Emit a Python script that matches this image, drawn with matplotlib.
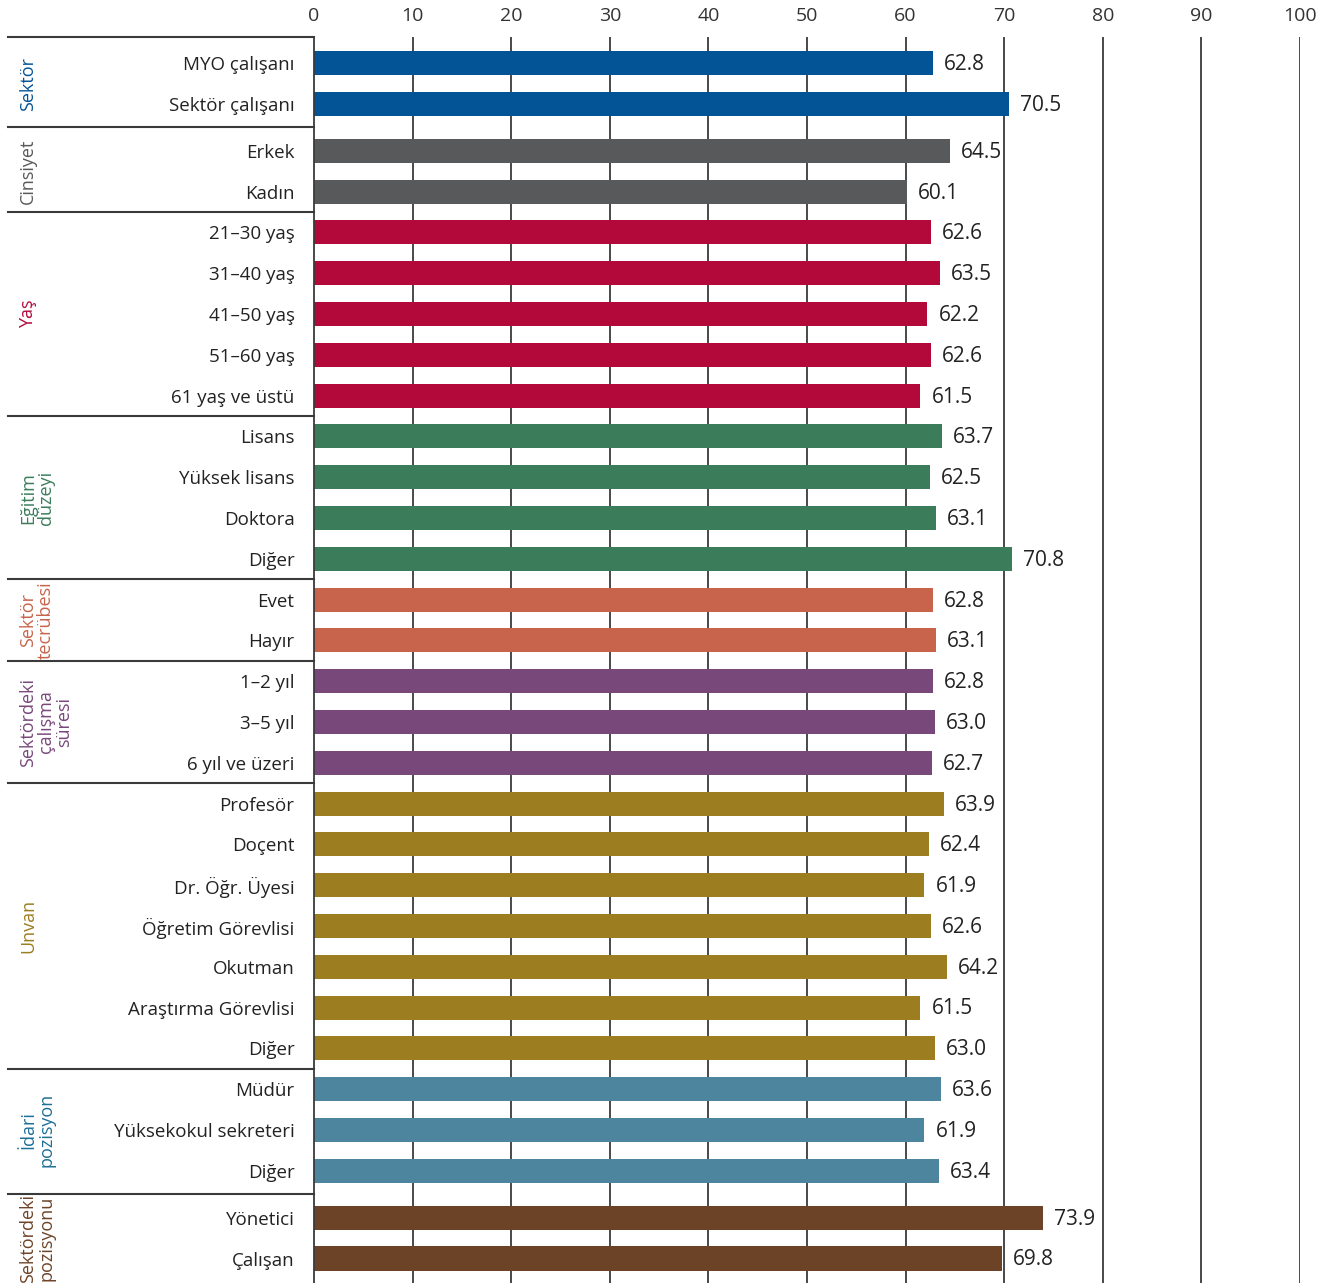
import matplotlib
matplotlib.use('Agg')
import matplotlib.pyplot as plt
import matplotlib.transforms as mtransforms

plt.rcParams['font.family'] = ['Open Sans', 'DejaVu Sans']

# Gruplar ve kategoriler
gruplar = ['Sektör', 'Cinsiyet', 'Yaş', 'Eğitim\ndüzeyi', 'Sektör\ntecrübesi',
           'Sektördeki\nçalışma\nsüresi', 'Unvan', 'İdari\npozisyon', 'Sektördeki\npozisyonu']
grup_renk = ['#035497', '#58595b', '#b3083a', '#3b7d5b', '#c8644b',
             '#78487a', '#9c7d1f', '#1d6f95', '#6d4327']
bar_renk = ['#035497', '#58595b', '#b3083a', '#3b7d5b', '#c8644b',
            '#78487a', '#9c7d1f', '#4e859e', '#6d4327']

kategoriler = [
    ['MYO çalışanı', 'Sektör çalışanı'],
    ['Erkek', 'Kadın'],
    ['21–30 yaş', '31–40 yaş', '41–50 yaş', '51–60 yaş', '61 yaş ve üstü'],
    ['Lisans', 'Yüksek lisans', 'Doktora', 'Diğer'],
    ['Evet', 'Hayır'],
    ['1–2 yıl', '3–5 yıl', '6 yıl ve üzeri'],
    ['Profesör', 'Doçent', 'Dr. Öğr. Üyesi', 'Öğretim Görevlisi', 'Okutman',
     'Araştırma Görevlisi', 'Diğer'],
    ['Müdür', 'Yüksekokul sekreteri', 'Diğer'],
    ['Yönetici', 'Çalışan'],
]

degerler = [
    [62.8, 70.5],
    [64.5, 60.1],
    [62.6, 63.5, 62.2, 62.6, 61.5],
    [63.7, 62.5, 63.1, 70.8],
    [62.8, 63.1],
    [62.8, 63.0, 62.7],
    [63.9, 62.4, 61.9, 62.6, 64.2, 61.5, 63.0],
    [63.6, 61.9, 63.4],
    [73.9, 69.8],
]

fig = plt.figure(figsize=(13.27, 12.83), dpi=100)
ax = fig.add_axes([0.23662, 0.0, 0.74303, 0.97116])

# konumlar: ilk gruptan sonra ve son gruptan önce biraz fazla boşluk
konum = []
grup_sinir = []
i = 0
for g, kat in enumerate(kategoriler):
    ilk = None
    for k in kat:
        p = i + 0.15 * (g >= 1) + 0.15 * (g >= len(kategoriler) - 1)
        konum.append(p)
        if ilk is None:
            ilk = p
        i += 1
    grup_sinir.append((ilk, konum[-1]))

etiketler = [k for kat in kategoriler for k in kat]
vals = [v for grp in degerler for v in grp]
renkler = [bar_renk[g] for g, kat in enumerate(kategoriler) for _ in kat]

ax.barh(konum, vals, height=0.59, color=renkler, zorder=2)
for p, v in zip(konum, vals):
    ax.annotate(f'{v:.1f}', (v, p), xytext=(8, -1), textcoords='offset points',
                va='center', ha='left', fontsize=15, color='#222222')

ax.set_xlim(0, 100)
ax.set_ylim(29.9, -0.64)
ax.set_xticks(range(0, 101, 10))
ax.xaxis.tick_top()
ax.tick_params(axis='x', length=0, pad=9, labelsize=14, labelcolor='#333333')
ax.set_yticks(konum)
ax.set_yticklabels(etiketler, fontsize=13.5, color='#222222')
ax.tick_params(axis='y', length=0, pad=14)
for x in range(10, 101, 10):
    ax.axvline(x, color='#3a3a3a', lw=1.3, zorder=1)
for s in ['top', 'right', 'bottom']:
    ax.spines[s].set_visible(False)
ax.spines['left'].set_color('#3a3a3a')
ax.spines['left'].set_linewidth(1.3)

# grup ayraçları ve grup adları
trans = mtransforms.blended_transform_factory(ax.transAxes, ax.transData)
ayrac = [-0.64]
for g in range(len(grup_sinir) - 1):
    ayrac.append((grup_sinir[g][1] + grup_sinir[g + 1][0]) / 2)
for y in ayrac:
    ax.plot([-0.31, 0], [y, y], transform=trans, color='#3a3a3a', lw=1.5, clip_on=False)

for g, ad in enumerate(gruplar):
    orta = (grup_sinir[g][0] + grup_sinir[g][1]) / 2
    ax.text(-0.299, orta, ad, transform=trans, rotation=90, ha='left', va='center',
            multialignment='center', fontsize=13, color=grup_renk[g], linespacing=1.0)

plt.savefig('out.png', dpi=100)
